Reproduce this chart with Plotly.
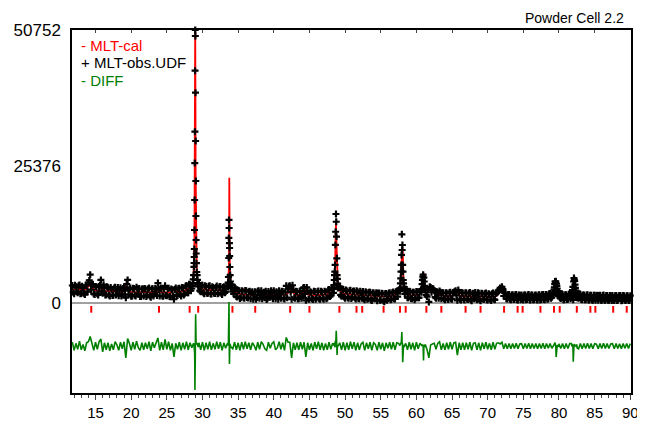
import plotly.graph_objects as go

# ---------------- data (counts) ----------------
# main scan: 2-theta = 11.75 + 0.25*i ; None = point replaced by the dense peak lists below
cal_A = [2550, 2530, 2510, 2490, 2470, 2460, 2450, 2460, 2650, 3000, 3500, 2900, 2500, 2350, 2300, 2280, 3000, 2900, 2260, 2240]
obs_A = [3250, 1730, 3010, 1890, 3370, 1760, 2750, 1560, 3250, 3800, 5260, 3400, 1700, 3050, 1700, 3080, 4300, 1800, 2860, 1540]
cal_B = [2220, 2200, 2180, 2160, 2150, 2140, 2130, 2120, 2110, 2100, 3200, 2900, 2080, 2070, 2060, 2050, 2040, 2030, 2020, 2010]
obs_B = [2820, 1300, 2580, 1460, 2950, 2340, 1330, 2820, 1610, 2900, 1000, 4300, 2580, 1270, 2760, 1450, 2940, 1730, 1220, 2610]
cal_C = [2000, 1990, 1980, 1975, 1970, 1965, 1960, 1960, 2200, 2100, 1960, 1950, 1950, 1950, 1950, 1960, 1970, 2700, 2300, 2000]
obs_C = [1300, 2590, 1480, 2775, 1070, 2665, 1660, 2560, 3700, 1300, 2660, 1250, 3200, 1350, 2750, 1160, 2470, 700, 2800, 1400]
cal_D = [2050, 2100, 2200, 2300, 2450, 2600, 2800, 3000, None, None, None, 3100, 2800, 2600, 2500, 2450, 2420, 2400, 2380, 2370]
obs_D = [2750, 1300, 2800, 1700, 3250, 1900, 3400, 2700, None, None, None, 3700, 2100, 3300, 1700, 3050, 1820, 3200, 1680, 2870]
cal_E = [2360, 2350, 2350, 2360, 2380, 2420, 2500, 2700, None, None, 2600, 2200, 1900, 1750, 1650, 1600, 1560, 1540, 1520, 1500]
obs_E = [1760, 3150, 1850, 3060, 1580, 3020, 2100, 3200, None, None, 2100, 2900, 1200, 2350, 850, 2300, 960, 2340, 1020, 2100]
cal_F = [1500, 1490, 1480, 1480, 1470, 1470, 1460, 1460, 1460, 1450, 1450, 1450, 1450, 1460, 1470, 1480, 1490, 1500, 1520, 1550]
obs_F = [800, 2090, 1580, 680, 2170, 870, 2260, 1760, 960, 650, 2150, 1050, 1950, 2260, 770, 1180, 2290, 900, 2120, 750]
cal_G = [1600, 1900, 2500, 2900, 1900, 1600, 1500, 1480, 1500, 1900, 2200, 2500, 1600, 1450, 1440, 1430, 1430, 1420, 1420, 1420]
obs_G = [3200, 2600, 3200, 700, 2500, 900, 2100, 780, 2200, 1300, 2900, 500, 2200, 750, 1940, 630, 2130, 920, 2220, 720]
cal_H = [1450, 1500, 1550, 1650, 1800, 2000, 2300, None, None, None, 2300, 1950, 1800, 1700, 1650, 1600, 1580, 1560, 1550, 1540]
obs_H = [2050, 700, 2050, 950, 2500, 1400, 2800, None, None, None, 2900, 1250, 2500, 900, 2250, 900, 2380, 1060, 2250, 740]
cal_I = [1500, 1480, 1450, 1420, 1400, 1370, 1340, 1310, 1280, 1250, 1220, 1200, 1180, 1160, 1150, 1150, 1160, 1180, 1220, 1280]
obs_I = [2100, 780, 1850, 2120, 600, 1970, 840, 2010, 480, 1850, 1520, 400, 1880, 560, 1750, 250, 1760, 780, 1920, 680]
cal_J = [1350, 1450, 1600, 1850, None, None, None, 2100, 1700, 1500, 1420, 1400, 1400, 1420, 1480, 1650, None, None, 2100, 1900]
obs_J = [2050, 750, 2200, 2350, None, None, None, 2600, 1000, 2200, 820, 2000, 600, 2120, 980, 2150, None, None, 2400, 1200]
cal_K = [2400, 2700, 2300, 1800, 1500, 1400, 1450, 1500, 1400, 1300, 1280, 1270, 1280, 1300, 1400, 1600, 2200, 1400, 1280, 1270]
obs_K = [200, 2900, 2700, 2300, 900, 1900, 2250, 800, 1900, 600, 1880, 670, 1980, 700, 2000, 2300, 500, 2000, 580, 1870]
cal_L = [1260, 1250, 1240, 1230, 1220, 1220, 1350, 1300, 1210, 1200, 1190, 1180, 1170, 1160, 1150, 1150, 1160, 1200, 1350, 1700]
obs_L = [560, 1850, 640, 1930, 420, 1720, 1950, 600, 1810, 400, 1790, 680, 1870, 560, 1650, 450, 1860, 600, 1850, 2300]
cal_M = [2400, 2300, 1800, 1400, 1250, 1150, 1120, 1100, 1090, 1080, 1070, 1060, 1050, 1050, 1060, 1080, 1070, 1060, 1050, 1050]
obs_M = [2800, 3000, 1300, 1850, 750, 1600, 620, 1550, 640, 1580, 570, 1460, 1500, 550, 1510, 630, 1570, 560, 1500, 600]
cal_N = [1050, 1060, 1070, 1080, 1100, 1120, 1150, 1200, 1300, 1450, None, None, None, 1700, 1300, 1150, 1100, 1100, 1150, 1250]
obs_N = [1500, 560, 1520, 630, 1600, 620, 1600, 800, 1750, 1050, None, None, None, 2100, 850, 1600, 600, 1550, 700, 1700]
cal_O = [1350, None, None, None, 1400, 1200, 1100, 1060, 1040, 1030, 1020, 1010, 1000, 1000, 990, 990, 980, 980, 970, 970]
obs_O = [1800, None, None, None, 900, 1650, 600, 1510, 590, 1530, 570, 1460, 500, 1450, 1340, 490, 1430, 530, 1470, 520]
cal_P = [960, 960, 950, 950, 950, 940, 940, 940, 930, 930, 930, 920, 920, 920]
obs_P = [1410, 510, 1350, 1400, 450, 1390, 490, 1340, 430, 1380, 530, 1370, 470, 1370]

# extra observed points between the main steps: 2-theta = 11.875 + 0.25*i
half_A = [2000, 3300, 2100, 3200, 1700, 3100, 1800, 3300, 2100, 4200, 2500, 3500, 1600, 3000, 1500, 3300, 2200, 3400, 1500, 3000]
half_B = [1500, 2900, 1400, 2800, 1500, 2900, 2400, 1300, 2700, 2300, 3500, 1600, 2800, 1300, 2700, 1300, 2600, 2700, 1200, 2600]
half_C = [2700, 1200, 2600, 1300, 2600, 1300, 2700, 1400, 2500, 2800, 1300, 2600, 1400, 2700, 1200, 2600, 1300, 2500, 1500, 2700]
half_D = [1600, 2900, 1500, 3100, 1900, 3500, 2300, None, None, None, None, 2300, 3300, 1900, 3200, 1800, 3100, 1700, 3000, 1800]
half_E = [2900, 1700, 3000, 1800, 2900, 1900, 3200, None, None, 3400, 1700, 2700, 1100, 2300, 1000, 2200, 900, 2300, 950, 2200]
half_F = [1900, 700, 2100, 1000, 2300, 1500, 800, 2000, 2200, 900, 1600, 2300, 800, 1300, 2100, 700, 1700, 2200, 900, 2000]
half_G = [1000, 3100, 2000, 3300, 1000, 2200, 800, 2200, 900, 2800, 1700, 2900, 700, 2100, 800, 2200, 700, 2100, 800, 2200]
half_H = [900, 2200, 800, 2400, 1200, 2800, 1900, None, None, 3100, 1500, 2600, 1100, 2400, 1000, 2300, 850, 2200, 1000, 2300]
half_I = [850, 2200, 900, 800, 2100, 700, 2000, 600, 1900, 800, 1900, 1800, 500, 1800, 400, 1700, 500, 1800, 600, 1900]
half_J = [800, 2100, 1200, 2500, None, None, 1700, 2500, 1000, 2100, 800, 2000, 900, 2100, 1000, 2300, None, None, 1500, 2500]
half_K = [3000, 2000, 2600, 1100, 2100, 900, 2000, 1900, 800, 1900, 700, 1900, 800, 1900, 2100, 1400, 2400, 700, 1900, 700]
half_L = [1900, 700, 1800, 600, 1800, 800, 1000, 1900, 600, 1800, 700, 1700, 600, 1700, 600, 1700, 700, 1800, 2000, 2500]
half_M = [2500, 2600, 1900, 800, 1600, 700, 1500, 650, 1550, 600, 1500, 600, 700, 1500, 600, 1500, 600, 1500, 600, 1450]
half_N = [600, 1500, 550, 1550, 650, 1600, 700, 1700, 900, 1900, None, None, None, 1000, 1700, 600, 1550, 650, 1650, 800]
half_O = [None, None, None, 1800, 1700, 650, 1500, 600, 1500, 550, 1450, 550, 1450, 500, 1450, 1400, 500, 1400, 500, 1400]
half_P = [500, 1400, 450, 550, 1350, 450, 1350, 1400, 450, 1350, 500, 1350, 450]

BASE_START, BASE_STEP = 11.75, 0.25
HALF_START = 11.875

# dense points across the peaks (2-theta, observed, calculated)
pk_x = [28.60, 28.65, 28.70, 28.75, 28.80, 28.82, 28.84, 28.86, 28.88, 28.90, 28.92, 28.94, 28.96, 28.98,
        29.00, 29.02, 29.04, 29.06, 29.08, 29.10, 29.12, 29.15, 29.20, 29.25, 29.30, 29.35, 29.40,
        33.56, 33.60, 33.64, 33.68, 33.70, 33.72, 33.74, 33.76, 33.78, 33.80, 33.82, 33.84, 33.88, 33.92, 33.96, 34.00,
        48.40, 48.44, 48.48, 48.52, 48.56, 48.60, 48.64, 48.68, 48.72, 48.76, 48.80, 48.84, 48.88, 48.92, 48.96, 49.00,
        57.68, 57.72, 57.76, 57.80, 57.84, 57.88, 57.92, 57.96, 58.00, 58.04, 58.08, 58.12, 58.16, 58.20, 58.26, 58.32,
        60.70, 60.75, 60.80, 60.85, 60.90, 60.95, 61.00, 61.05, 61.10, 61.15, 61.20,
        79.20, 79.25, 79.30, 79.35, 79.40, 79.45, 79.50, 79.55, 79.60, 79.65, 79.70, 79.75, 79.80, 79.85, 79.90, 79.95,
        81.80, 81.85, 81.90, 81.95, 82.00, 82.05, 82.10, 82.15, 82.20, 82.25, 82.30, 82.35, 82.40, 82.45, 82.50, 82.55]
pk_obs = [3200, 3700, 4400, 5200, 6700, 7440, 8550, 10040, 13570, 19150, 26020, 31850, 43190, 50750,
          49640, 39100, 30120, 22680, 16170, 11710, 9200, 7400, 5760, 5200, 4300, 3500, 3100,
          3000, 3800, 4830, 8370, 12090, 15440, 13940, None, 11150, 10230, 8740, 6690, 5200, 4000, 3400, 2700,
          2600, 3350, 4280, 5200, 5820, 7070, 10790, 13250, 16550, 15110, 12330, 8310, 5200, 4500, 3600, 2800,
          2200, 2730, 3660, 4590, 5820, 7070, 8930, 12770, 9850, 10780, 7070, 5820, 4280, 3660, 2900, 2400,
          2000, 2600, 3500, 4300, 4900, 5260, 2900, 4700, 4000, 3200, 2500,
          1500, 2000, 2500, 2900, 3500, 4000, 3800, 4030, 1800, 3600, 3200, 2700, 2200, 1800, 1500, 1300,
          1500, 1900, 2400, 3000, 600, 4000, 4650, 4300, 4100, 3400, 2800, 2300, 1700, 1300, 1700, 1000]
pk_cal = [3150, 3400, 3900, 4700, 6300, 7300, 8600, 10500, 14000, 20500, 29000, 40000, 48500, 52500,
          50500, 36000, 24200, 19500, 14800, 11200, 8900, 7000, 5400, 4600, 4000, 3600, 3300,
          2900, 3300, 4000, 5500, 6400, 7260, 12000, 23300, 14500, 10000, 8400, 6400, 4900, 3900, 3200, 2900,
          2500, 3100, 3800, 4700, 5900, 7300, 9800, 13000, 15200, 12260, 11000, 8600, 6870, 4800, 3500, 2800,
          2100, 2500, 3100, 4000, 5200, 6600, 8000, 10170, 9500, 10200, 10070, 6000, 4300, 3500, 2800, 2400,
          1900, 2500, 3300, 4100, 4800, 5300, 5600, 4900, 3900, 3100, 2500,
          1500, 1800, 2200, 2700, 3100, 3380, 3700, 3850, 3850, 3600, 3100, 2600, 2100, 1800, 1550, 1400,
          1400, 1700, 2200, 2800, 3500, 4100, 4500, 4400, 3900, 3300, 2700, 2100, 1700, 1500, 1400, 1350]

# Bragg reflection positions (2-theta)
refl_pos = [14.4, 23.9, 28.2, 29.4, 34.2, 37.4, 42.3, 45.0, 49.2, 51.6, 52.4, 55.4, 57.7, 58.5, 61.4,
            63.5, 66.9, 69.0, 72.3, 74.2, 74.9, 77.4, 79.3, 80.1, 82.5, 84.4, 85.1, 87.6, 89.5]

y_tick_vals = [0, 25376, 50752]
y_tick_text = ["0", "25376", "50752"]

# ---------------- assemble ----------------
base_cal = cal_A + cal_B + cal_C + cal_D + cal_E + cal_F + cal_G + cal_H + cal_I + cal_J + cal_K + cal_L + cal_M + cal_N + cal_O + cal_P
base_obs = obs_A + obs_B + obs_C + obs_D + obs_E + obs_F + obs_G + obs_H + obs_I + obs_J + obs_K + obs_L + obs_M + obs_N + obs_O + obs_P
half_obs = half_A + half_B + half_C + half_D + half_E + half_F + half_G + half_H + half_I + half_J + half_K + half_L + half_M + half_N + half_O + half_P
assert len(base_cal) == len(base_obs) == 314 and len(half_obs) == 313
assert len(pk_x) == len(pk_obs) == len(pk_cal)
base_x = [round(BASE_START + BASE_STEP * i, 3) for i in range(len(base_cal))]
half_x = [round(HALF_START + BASE_STEP * i, 3) for i in range(len(half_obs))]

calc_pts = [(x, o, c) for x, o, c in zip(base_x, base_obs, base_cal) if c is not None]
calc_pts += list(zip(pk_x, pk_obs, pk_cal))
calc_pts.sort(key=lambda t: t[0])
tt_calc = [p[0] for p in calc_pts]
cal = [p[2] for p in calc_pts]

DIFF_OFFSET = -8000
diff = [(o - c + DIFF_OFFSET) if o is not None else None for _, o, c in calc_pts]

obs_pts = [(x, o) for x, o, _ in calc_pts if o is not None]
obs_pts += [(x, o) for x, o in zip(half_x, half_obs) if o is not None]
obs_pts.sort(key=lambda t: t[0])
tt_obs = [p[0] for p in obs_pts]
obs = [p[1] for p in obs_pts]

TICK_TOP, TICK_BOTTOM = -560, -1800
rx, ry = [], []
for p in refl_pos:
    rx += [p, p, None]
    ry += [TICK_TOP, TICK_BOTTOM, None]

FONT = "Liberation Sans, Arial, sans-serif"
RED = "#ff0000"
GREEN = "#008000"

fig = go.Figure()
fig.add_trace(go.Scatter(x=rx, y=ry, mode="lines", line=dict(color=RED, width=2),
                         showlegend=False, hoverinfo="skip"))
fig.add_trace(go.Scatter(x=tt_calc, y=diff, mode="lines", connectgaps=True,
                         line=dict(color=GREEN, width=1.6), name="DIFF", showlegend=False))
fig.add_trace(go.Scatter(x=tt_calc, y=cal, mode="lines", connectgaps=True,
                         line=dict(color=RED, width=1.8), name="MLT-cal", showlegend=False))
fig.add_trace(go.Scatter(x=tt_obs, y=obs, mode="markers", cliponaxis=False,
                         marker=dict(symbol="cross-thin", size=5, color="black",
                                     line=dict(width=2.2, color="black")),
                         name="MLT-obs.UDF", showlegend=False))
# helper trace so the top (inside-tick) axis is drawn
fig.add_trace(go.Scatter(x=[None], y=[None], xaxis="x2", showlegend=False, hoverinfo="skip"))

XR = [11.7, 90.1]
# the page body has an 8px margin: figure is 8px smaller so the plot lands where the reference has it
fig.update_layout(
    width=637, height=417,
    margin=dict(l=64, r=14, t=22, b=32, autoexpand=False),
    paper_bgcolor="white", plot_bgcolor="white",
    font=dict(family=FONT, color="black"),
    xaxis=dict(range=XR, showgrid=False, zeroline=False, automargin=False,
               showline=True, linecolor="black", linewidth=1.5, mirror=True,
               tickmode="linear", tick0=15, dtick=5,
               ticks="outside", ticklen=5, tickwidth=1, tickcolor="#444",
               minor=dict(dtick=1, ticks="outside", ticklen=3, tickwidth=1, tickcolor="#444"),
               tickfont=dict(size=15, family=FONT, color="black")),
    xaxis2=dict(range=XR, overlaying="x", side="top", anchor="y", automargin=False,
                showgrid=False, zeroline=False, showline=False,
                tickmode="linear", tick0=15, dtick=5,
                ticks="inside", ticklen=3, tickwidth=1, tickcolor="#444",
                showticklabels=False),
    yaxis=dict(range=[-16730, 50752], showgrid=False, automargin=False,
               zeroline=True, zerolinecolor="#a0a0a0", zerolinewidth=2,
               showline=True, linecolor="black", linewidth=1.5, mirror=True,
               tickmode="array", tickvals=y_tick_vals, ticktext=y_tick_text,
               ticks="", ticklabelstandoff=6,
               tickfont=dict(size=17, family=FONT, color="black")),
    hovermode=False,
)

legend_items = [("- MLT-cal", RED, 0.956), ("+ MLT-obs.UDF", "black", 0.911), ("- DIFF", GREEN, 0.862)]
for txt, col, yy in legend_items:
    fig.add_annotation(text=txt, xref="paper", yref="paper", x=0.012, y=yy,
                       xanchor="left", yanchor="middle", showarrow=False,
                       font=dict(size=15, color=col, family=FONT))
fig.add_annotation(text="Powder Cell 2.2", xref="paper", yref="paper", x=0.991, y=1.033,
                   xanchor="right", yanchor="middle", showarrow=False,
                   font=dict(size=14, color="black", family=FONT))

fig.write_html("out.html")
